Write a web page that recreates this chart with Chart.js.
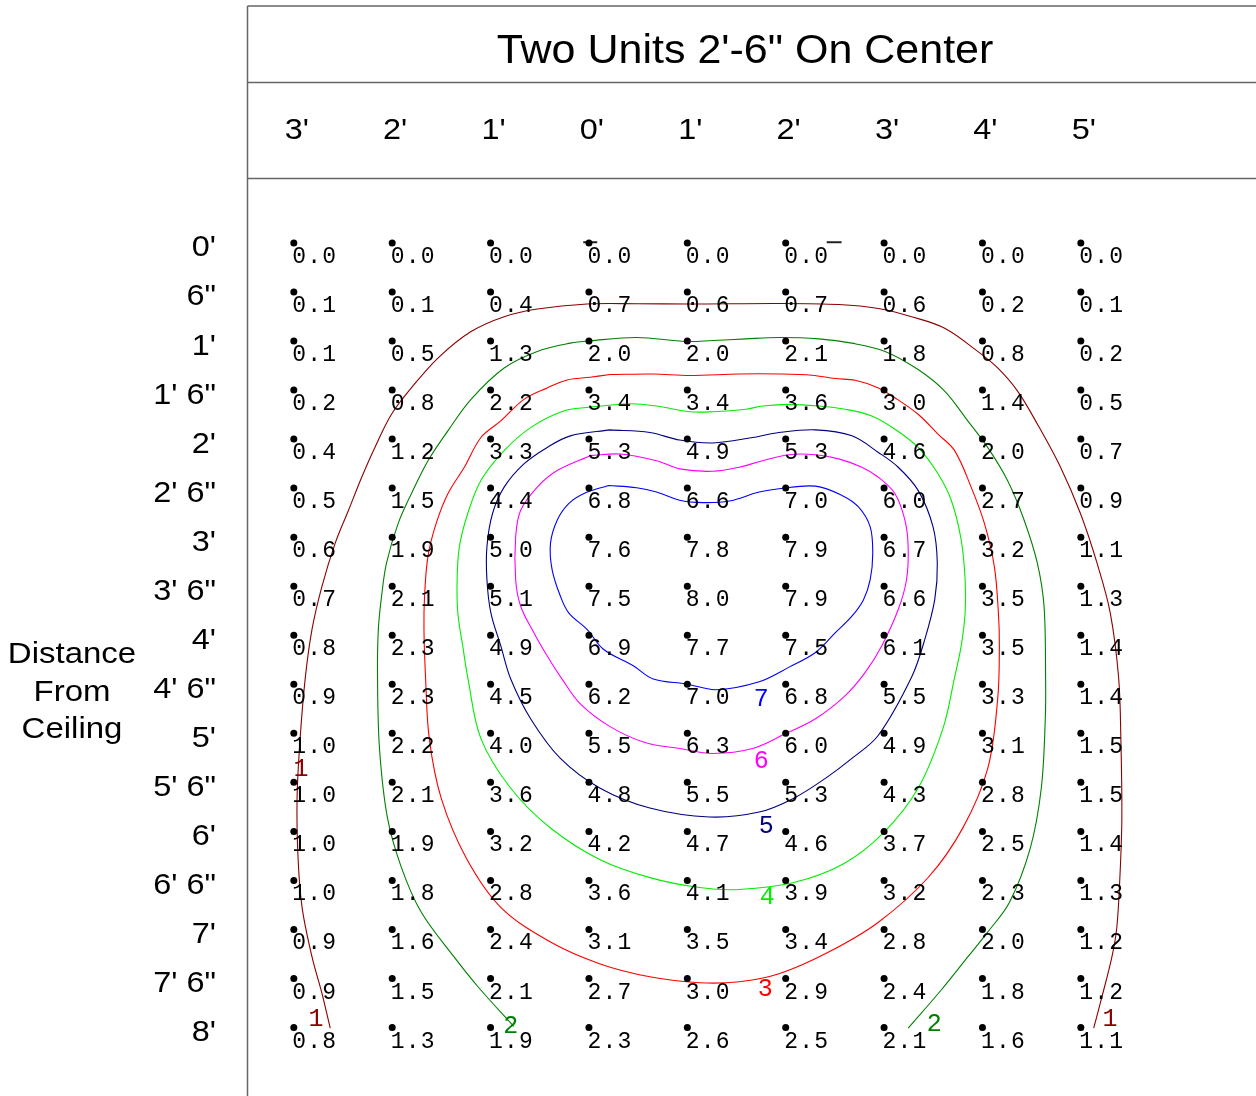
<!DOCTYPE html>
<html>
<head>
<meta charset="utf-8">
<script src="https://cdn.jsdelivr.net/npm/chart.js@4.4.1/dist/chart.umd.min.js"></script>
<style>
  html, body { margin: 0; padding: 0; background: #fff; }
  canvas { display: block; }
</style>
</head>
<body>
<canvas id="grid" width="1256" height="1096"></canvas>
<script>
// ── Data ───────────────────────────────────────────────────────────────────
// Columns: feet from centre (left side negative), rows: feet from ceiling
const colFeet   = [-3, -2, -1, 0, 1, 2, 3, 4, 5];
const colLabels = ["3'", "2'", "1'", "0'", "1'", "2'", "3'", "4'", "5'"];
const rowFeet   = [0, 0.5, 1, 1.5, 2, 2.5, 3, 3.5, 4, 4.5, 5, 5.5, 6, 6.5, 7, 7.5, 8];
const rowLabels = ["0'", '6"', "1'", "1' 6\"", "2'", "2' 6\"", "3'", "3' 6\"", "4'",
                   "4' 6\"", "5'", "5' 6\"", "6'", "6' 6\"", "7'", "7' 6\"", "8'"];

// readings, one row per distance from ceiling
const readings = [
  [0.0, 0.0, 0.0, 0.0, 0.0, 0.0, 0.0, 0.0, 0.0],
  [0.1, 0.1, 0.4, 0.7, 0.6, 0.7, 0.6, 0.2, 0.1],
  [0.1, 0.5, 1.3, 2.0, 2.0, 2.1, 1.8, 0.8, 0.2],
  [0.2, 0.8, 2.2, 3.4, 3.4, 3.6, 3.0, 1.4, 0.5],
  [0.4, 1.2, 3.3, 5.3, 4.9, 5.3, 4.6, 2.0, 0.7],
  [0.5, 1.5, 4.4, 6.8, 6.6, 7.0, 6.0, 2.7, 0.9],
  [0.6, 1.9, 5.0, 7.6, 7.8, 7.9, 6.7, 3.2, 1.1],
  [0.7, 2.1, 5.1, 7.5, 8.0, 7.9, 6.6, 3.5, 1.3],
  [0.8, 2.3, 4.9, 6.9, 7.7, 7.5, 6.1, 3.5, 1.4],
  [0.9, 2.3, 4.5, 6.2, 7.0, 6.8, 5.5, 3.3, 1.4],
  [1.0, 2.2, 4.0, 5.5, 6.3, 6.0, 4.9, 3.1, 1.5],
  [1.0, 2.1, 3.6, 4.8, 5.5, 5.3, 4.3, 2.8, 1.5],
  [1.0, 1.9, 3.2, 4.2, 4.7, 4.6, 3.7, 2.5, 1.4],
  [1.0, 1.8, 2.8, 3.6, 4.1, 3.9, 3.2, 2.3, 1.3],
  [0.9, 1.6, 2.4, 3.1, 3.5, 3.4, 2.8, 2.0, 1.2],
  [0.9, 1.5, 2.1, 2.7, 3.0, 2.9, 2.4, 1.8, 1.2],
  [0.8, 1.3, 1.9, 2.3, 2.6, 2.5, 2.1, 1.6, 1.1],
];

const title = 'Two Units 2\'-6" On Center';
const sideTitle = ['Distance', 'From', 'Ceiling'];

// iso-lines, [x ft, y ft]
const contour1 = [
  [-2.630, 8.006], [-2.714, 7.652], [-2.815, 7.280], [-2.916, 6.774], [-2.957, 6.268],
  [-2.967, 5.661], [-2.936, 5.054], [-2.883, 4.429], [-2.815, 3.940], [-2.714, 3.502],
  [-2.580, 3.063], [-2.444, 2.726], [-2.310, 2.389], [-2.176, 2.085], [-2.007, 1.747],
  [-1.805, 1.478], [-1.535, 1.174], [-1.199, 0.904], [-0.862, 0.752], [-0.525, 0.674],
  [-0.020, 0.623], [0.485, 0.620], [1.023, 0.623], [1.932, 0.617], [2.539, 0.628],
  [2.942, 0.668], [3.279, 0.752], [3.616, 0.870], [3.952, 1.106], [4.155, 1.275],
  [4.357, 1.511], [4.559, 1.848], [4.794, 2.287], [4.996, 2.759], [5.165, 3.265],
  [5.299, 3.771], [5.384, 4.429], [5.407, 5.054], [5.417, 5.864], [5.397, 6.471],
  [5.366, 6.977], [5.316, 7.280], [5.215, 7.685], [5.131, 8.006],
];
const contour2 = [
  [-0.764, 7.989], [-1.128, 7.584], [-1.371, 7.280], [-1.704, 6.825], [-1.906, 6.369],
  [-2.048, 5.863], [-2.129, 5.155], [-2.149, 4.429], [-2.141, 3.940], [-2.108, 3.603],
  [-2.058, 3.265], [-1.939, 2.860], [-1.805, 2.557], [-1.636, 2.220], [-1.434, 1.916],
  [-1.199, 1.595], [-0.862, 1.275], [-0.525, 1.106], [-0.189, 1.022], [0.013, 0.998],
  [0.485, 0.965], [0.990, 1.005], [1.259, 0.995], [1.596, 0.978], [1.932, 0.965],
  [2.337, 0.978], [2.673, 1.022], [3.010, 1.106], [3.346, 1.291], [3.616, 1.511],
  [3.851, 1.815], [4.053, 2.085], [4.255, 2.422], [4.424, 2.827], [4.558, 3.265],
  [4.626, 3.704], [4.642, 4.429], [4.639, 4.851], [4.598, 5.560], [4.487, 6.167],
  [4.275, 6.723], [4.053, 7.027], [3.851, 7.280], [3.581, 7.617], [3.245, 8.006],
];
const contour3 = [
  [0.215, 1.342], [0.653, 1.336], [1.023, 1.352], [1.528, 1.336], [1.932, 1.336],
  [2.269, 1.349], [2.505, 1.383], [2.707, 1.400], [2.942, 1.478], [3.111, 1.579],
  [3.346, 1.747], [3.548, 1.949], [3.717, 2.118], [3.885, 2.490], [4.020, 2.860],
  [4.121, 3.300], [4.162, 3.771], [4.172, 4.109], [4.155, 4.648], [4.054, 5.357],
  [3.801, 5.964], [3.448, 6.470], [2.942, 6.926], [2.437, 7.230], [1.932, 7.452],
  [1.528, 7.533], [1.124, 7.543], [0.619, 7.482], [0.114, 7.351], [-0.391, 7.128],
  [-0.896, 6.774], [-1.249, 6.268], [-1.502, 5.661], [-1.623, 5.054], [-1.661, 4.429],
  [-1.677, 3.940], [-1.671, 3.603], [-1.637, 3.198], [-1.553, 2.860], [-1.434, 2.557],
  [-1.267, 2.287], [-1.098, 1.984], [-0.896, 1.815], [-0.661, 1.595], [-0.424, 1.478],
  [-0.222, 1.397], [0.013, 1.369], [0.215, 1.342],
];
const contour4 = [
  [0.013, 1.673], [0.417, 1.640], [0.687, 1.663], [1.023, 1.721], [1.259, 1.721],
  [1.596, 1.696], [1.764, 1.663], [2.034, 1.646], [2.337, 1.663], [2.606, 1.696],
  [2.875, 1.764], [3.111, 1.899], [3.346, 2.085], [3.548, 2.354], [3.683, 2.624],
  [3.784, 3.029], [3.824, 3.434], [3.824, 3.771], [3.784, 4.109], [3.717, 4.429],
  [3.598, 4.952], [3.346, 5.560], [2.993, 6.015], [2.589, 6.329], [2.083, 6.521],
  [1.528, 6.592], [1.124, 6.572], [0.619, 6.471], [0.114, 6.289], [-0.391, 5.965],
  [-0.795, 5.560], [-1.098, 5.054], [-1.232, 4.429], [-1.283, 4.109], [-1.333, 3.771],
  [-1.340, 3.434], [-1.317, 3.097], [-1.232, 2.759], [-1.098, 2.422], [-0.862, 2.118],
  [-0.593, 1.883], [-0.257, 1.714], [0.013, 1.673],
];
const contour5 = [
  [0.215, 1.906], [0.619, 1.933], [0.922, 2.010], [1.259, 2.040], [1.663, 1.984],
  [1.932, 1.933], [2.303, 1.906], [2.673, 1.967], [2.942, 2.136], [3.144, 2.287],
  [3.346, 2.523], [3.498, 2.895], [3.541, 3.265], [3.515, 3.637], [3.414, 4.042],
  [3.279, 4.429], [2.942, 5.020], [2.673, 5.256], [2.404, 5.459], [2.083, 5.661],
  [1.730, 5.803], [1.225, 5.853], [0.619, 5.762], [0.114, 5.560], [-0.290, 5.256],
  [-0.593, 4.851], [-0.795, 4.446], [-0.896, 4.109], [-0.997, 3.771], [-1.037, 3.434],
  [-1.037, 3.097], [-0.980, 2.759], [-0.862, 2.490], [-0.661, 2.253], [-0.424, 2.085],
  [-0.189, 1.967], [0.215, 1.906],
];
const contour6 = [
  [0.013, 2.169], [0.316, 2.152], [0.687, 2.220], [0.922, 2.304], [1.259, 2.328],
  [1.528, 2.287], [1.764, 2.220], [2.034, 2.159], [2.303, 2.159], [2.539, 2.202],
  [2.774, 2.287], [2.942, 2.389], [3.111, 2.557], [3.212, 2.827], [3.245, 3.097],
  [3.228, 3.434], [3.144, 3.738], [2.976, 4.109], [2.808, 4.379], [2.606, 4.615],
  [2.303, 4.851], [2.000, 5.003], [1.663, 5.155], [1.259, 5.205], [0.922, 5.155],
  [0.569, 5.094], [0.215, 4.932], [-0.088, 4.700], [-0.273, 4.447], [-0.424, 4.211],
  [-0.560, 3.974], [-0.694, 3.704], [-0.745, 3.434], [-0.745, 2.996], [-0.694, 2.726],
  [-0.525, 2.490], [-0.323, 2.321], [0.013, 2.169],
];
const contour7 = [
  [0.198, 2.473], [0.485, 2.496], [0.687, 2.540], [0.922, 2.624], [1.158, 2.648],
  [1.427, 2.632], [1.730, 2.540], [1.932, 2.506], [2.303, 2.480], [2.572, 2.574],
  [2.740, 2.692], [2.859, 2.895], [2.885, 3.164], [2.859, 3.434], [2.791, 3.637],
  [2.673, 3.806], [2.505, 3.974], [2.303, 4.176], [2.034, 4.325], [1.730, 4.474],
  [1.293, 4.555], [0.990, 4.497], [0.653, 4.446], [0.451, 4.312], [0.147, 4.143],
  [-0.020, 3.940], [-0.206, 3.771], [-0.290, 3.603], [-0.374, 3.333], [-0.391, 3.063],
  [-0.323, 2.827], [-0.206, 2.658], [-0.055, 2.557], [0.198, 2.473],
];
const contours = [contour1, contour2, contour3, contour4, contour5, contour6, contour7];

// where each level number is written, [x ft, y ft]
const levelTags = [
  { level: 1, at: [[-2.926, 5.337], [-2.775, 7.888], [5.296, 7.888]] },
  { level: 2, at: [[-0.795, 7.959], [3.509, 7.938]] },
  { level: 3, at: [[1.792, 7.584]] },
  { level: 4, at: [[1.812, 6.643]] },
  { level: 5, at: [[1.802, 5.914]] },
  { level: 6, at: [[1.752, 5.256]] },
  { level: 7, at: [[1.752, 4.619]] },
];

// two stray ticks on the top row
const strayTicks = [
  [[-0.058, -0.007], [0.084, -0.007]],
  [[2.417, -0.007], [2.568, -0.007]],
];

// ── Style ──────────────────────────────────────────────────────────────────
const LEVEL_COLORS = ['#8b0000', '#008000', '#ff0000', '#00ee00', '#000080', '#ff00ff', '#0000ff'];
const SANS  = '"Liberation Sans", Arial, sans-serif';
const MONO  = '"Liberation Mono", "DejaVu Sans Mono", monospace';
const FRAME = '#666';

// data range that puts the grid where the drawing has it
const X_MIN = -5.946, X_MAX = 6.740;
const Y_MIN = -2.436, Y_MAX = 8.657;

function stretchText(ctx, str, x, y, font, sx, align, color, baseline) {
  ctx.save();
  ctx.translate(x, y);
  ctx.scale(sx, 1);
  ctx.font = font;
  ctx.textAlign = align;
  ctx.textBaseline = baseline || 'alphabetic';
  ctx.fillStyle = color;
  ctx.fillText(str, 0, 0);
  ctx.restore();
}

// ── Datasets ───────────────────────────────────────────────────────────────
const datasets = [];

contours.forEach((pts, i) => {
  datasets.push({
    label: 'level ' + (i + 1),
    data: pts.map(p => ({ x: p[0], y: p[1] })),
    showLine: true,
    borderColor: LEVEL_COLORS[i],
    borderWidth: 1.1,
    pointRadius: 0,
    tension: 0.35,
    fill: false,
    order: 2,
  });
});

strayTicks.forEach(seg => {
  datasets.push({
    data: seg.map(p => ({ x: p[0], y: p[1] })),
    showLine: true,
    borderColor: '#222',
    borderWidth: 2,
    pointRadius: 0,
    order: 1,
  });
});

const gridPts = [];
rowFeet.forEach((yv, r) => colFeet.forEach((xv, c) => gridPts.push({ x: xv, y: yv, v: readings[r][c] })));
datasets.push({
  label: 'readings',
  data: gridPts,
  showLine: false,
  pointRadius: 3.5,
  pointBackgroundColor: '#000',
  pointBorderWidth: 0,
  order: 0,
});

// ── Text & frame ───────────────────────────────────────────────────────────
const textPlugin = {
  id: 'gridText',
  beforeDraw(chart) {
    const ctx = chart.ctx;
    ctx.save();
    ctx.fillStyle = '#fff';
    ctx.fillRect(0, 0, chart.width, chart.height);
    ctx.restore();
  },
  afterDatasetsDraw(chart) {
    const ctx = chart.ctx;
    const xs = chart.scales.x, ys = chart.scales.y;

    // header frame
    ctx.save();
    ctx.strokeStyle = FRAME;
    ctx.lineWidth = 1.5;
    ctx.beginPath();
    ctx.moveTo(247.5, 6); ctx.lineTo(247.5, chart.height);
    [6, 82.5, 178.5].forEach(y => { ctx.moveTo(247.5, y); ctx.lineTo(chart.width, y); });
    ctx.stroke();
    ctx.restore();

    stretchText(ctx, title, 745, 63, '40px ' + SANS, 1.075, 'center', '#000');

    colFeet.forEach((xv, i) => {
      stretchText(ctx, colLabels[i], xs.getPixelForValue(xv) + 3, 139, '30px ' + SANS, 1.08, 'center', '#000');
    });
    rowFeet.forEach((yv, i) => {
      stretchText(ctx, rowLabels[i], 216, ys.getPixelForValue(yv) + 13.5, '30px ' + SANS, 1.08, 'right', '#000');
    });
    [662.5, 700.5, 738].forEach((y, i) => {
      stretchText(ctx, sideTitle[i], 72, y, '30px ' + SANS, 1.1, 'center', '#000');
    });

    // reading values, monospaced with wide tracking
    gridPts.forEach(p => {
      const x0 = xs.getPixelForValue(p.x) - 1.5;
      const y0 = ys.getPixelForValue(p.y) + 20;
      const s = p.v.toFixed(1);
      for (let k = 0; k < s.length; k++) {
        stretchText(ctx, s[k], x0 + k * 15, y0, '23px ' + MONO, 1.0, 'left', '#000');
      }
    });

    // level numbers (digits sit a little low of the em-box middle)
    levelTags.forEach(t => {
      t.at.forEach(p => {
        stretchText(ctx, String(t.level), xs.getPixelForValue(p[0]), ys.getPixelForValue(p[1]) + 3,
          '25px ' + MONO, 1.0, 'center', LEVEL_COLORS[t.level - 1], 'middle');
      });
    });
  },
};

new Chart(document.getElementById('grid'), {
  type: 'scatter',
  data: { datasets },
  options: {
    responsive: false,
    animation: false,
    devicePixelRatio: 1,
    layout: { padding: 0 },
    plugins: { legend: { display: false }, tooltip: { enabled: false }, title: { display: false } },
    scales: {
      x: { type: 'linear', min: X_MIN, max: X_MAX, display: false },
      y: { type: 'linear', min: Y_MIN, max: Y_MAX, reverse: true, display: false },
    },
  },
  plugins: [textPlugin],
});
</script>
</body>
</html>
